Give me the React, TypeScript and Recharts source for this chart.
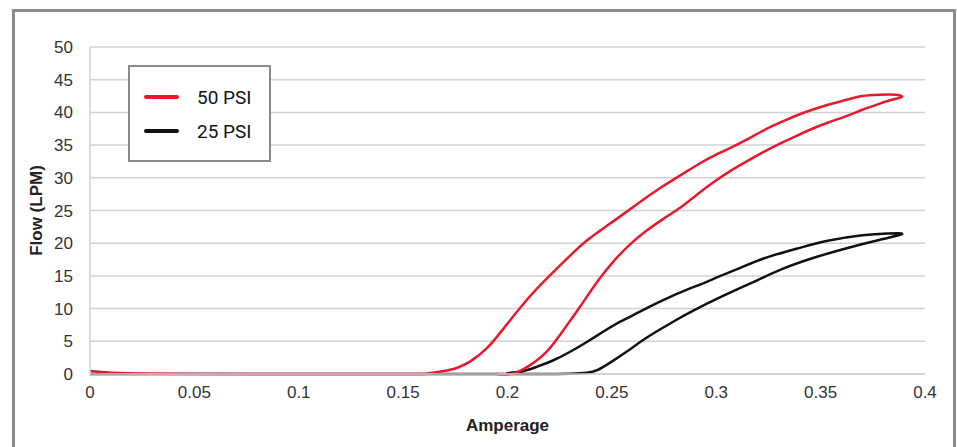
import React from 'react';
import { LineChart, Line, XAxis, YAxis, CartesianGrid, Label } from 'recharts';

const psi50Amps = [0, 0.01, 0.03, 0.08, 0.15, 0.162, 0.172, 0.182, 0.19, 0.198, 0.206, 0.214, 0.222, 0.23, 0.238, 0.246, 0.254, 0.263, 0.273, 0.283, 0.291, 0.299, 0.307, 0.315, 0.323, 0.331, 0.339, 0.346, 0.354, 0.362, 0.37, 0.378, 0.386, 0.389, 0.385, 0.378, 0.37, 0.362, 0.354, 0.346, 0.339, 0.331, 0.323, 0.315, 0.307, 0.299, 0.291, 0.283, 0.275, 0.267, 0.259, 0.251, 0.243, 0.235, 0.227, 0.219, 0.211, 0.203, 0.195];
const psi50Flow = [0.45, 0.2, 0.05, 0, 0, 0.1, 0.6, 1.9, 3.9, 6.9, 10.1, 13.0, 15.6, 18.1, 20.4, 22.3, 24.1, 26.2, 28.4, 30.4, 32.0, 33.4, 34.6, 35.9, 37.3, 38.5, 39.6, 40.4, 41.2, 41.9, 42.5, 42.7, 42.7, 42.4, 42.0, 41.3, 40.4, 39.4, 38.5, 37.5, 36.5, 35.3, 34.0, 32.6, 31.1, 29.4, 27.5, 25.5, 23.8, 22.0, 19.9, 17.3, 14.1, 10.4, 6.8, 3.5, 1.4, 0.1, 0];

const psi25Amps = [0, 0.1, 0.19, 0.2, 0.206, 0.214, 0.222, 0.23, 0.238, 0.246, 0.254, 0.262, 0.27, 0.278, 0.286, 0.294, 0.302, 0.312, 0.323, 0.339, 0.354, 0.37, 0.382, 0.389, 0.378, 0.362, 0.346, 0.332, 0.318, 0.303, 0.289, 0.281, 0.273, 0.265, 0.257, 0.249, 0.243, 0.238, 0.23, 0.215, 0.2];
const psi25Flow = [0, 0, 0, 0.1, 0.35, 1.1, 2.1, 3.4, 4.9, 6.5, 8.0, 9.3, 10.6, 11.8, 12.9, 13.9, 15.0, 16.3, 17.7, 19.2, 20.4, 21.2, 21.5, 21.4, 20.5, 19.2, 17.7, 16.1, 14.1, 11.9, 9.7, 8.3, 6.8, 5.2, 3.4, 1.7, 0.6, 0.2, 0.05, 0, 0];

const xTicks = [0, 0.05, 0.1, 0.15, 0.2, 0.25, 0.3, 0.35, 0.4];
const yTicks = [0, 5, 10, 15, 20, 25, 30, 35, 40, 45, 50];

const seriesNames = ['50 PSI', '25 PSI'];
const seriesColors = ['#e8192c', '#111111'];

const zip = (xs: number[], ys: number[]) => xs.map((x, i) => ({ x, y: ys[i] }));
const data50 = zip(psi50Amps, psi50Flow);
const data25 = zip(psi25Amps, psi25Flow);

const tickFont = 'Liberation Sans, Arial, sans-serif';

const LegendBox = () => (
  <div
    style={{
      position: 'absolute',
      left: 128,
      top: 65,
      width: 139,
      height: 93,
      border: '2px solid #8a8a8a',
      background: '#fff',
      fontFamily: 'Roboto, sans-serif',
      fontSize: 19,
      color: '#111',
    }}
  >
    {seriesNames.map((n, i) => (
      <div key={n} style={{ position: 'absolute', left: 14, top: 18 + i * 34, display: 'flex', alignItems: 'center', height: 24 }}>
        <div style={{ width: 35, height: 4, borderRadius: 2, background: seriesColors[i] }} />
        <span style={{ marginLeft: 18 }}>{n}</span>
      </div>
    ))}
  </div>
);

export default function App() {
  return (
    <div style={{ position: 'fixed', left: 0, top: 0, width: 957, height: 447, background: '#fff' }}>
      <div
        style={{
          position: 'absolute',
          left: 12,
          top: 9,
          width: 938,
          height: 460,
          border: '3px solid #8b8b8b',
          borderBottom: 'none',
        }}
      />
      <div style={{ position: 'absolute', left: 0, top: 0 }}>
        <LineChart width={957} height={447} margin={{ top: 47, right: 32, bottom: 0, left: 0 }}>
          <CartesianGrid vertical={false} stroke="#d2d2d2" strokeWidth={1.5} />
          <XAxis
            dataKey="x"
            type="number"
            domain={[0, 0.4]}
            ticks={xTicks}
            allowDuplicatedCategory={false}
            height={73}
            tickLine={false}
            tickSize={6}
            tickMargin={6}
            axisLine={{ stroke: '#d2d2d2', strokeWidth: 1.5 }}
            tick={{ fill: '#333', fontSize: 17, fontFamily: tickFont }}
          >
            <Label
              value="Amperage"
              position="insideBottom"
              offset={16}
              style={{ fill: '#222', fontSize: 17, fontWeight: 'bold', fontFamily: tickFont }}
            />
          </XAxis>
          <YAxis
            dataKey="y"
            type="number"
            domain={[0, 50]}
            ticks={yTicks}
            width={90}
            tickLine={false}
            tickSize={8}
            tickMargin={9}
            axisLine={{ stroke: '#d2d2d2', strokeWidth: 1.5 }}
            tick={{ fill: '#333', fontSize: 17, fontFamily: tickFont }}
          >
            <Label
              value="Flow (LPM)"
              angle={-90}
              position="center"
              dx={-9}
              style={{ fill: '#222', fontSize: 17, fontWeight: 'bold', fontFamily: tickFont, textAnchor: 'middle' }}
            />
          </YAxis>
          <Line
            data={data25}
            dataKey="y"
            name={seriesNames[1]}
            type="natural"
            stroke={seriesColors[1]}
            strokeWidth={2.5}
            dot={false}
            isAnimationActive={false}
          />
          <Line
            data={data50}
            dataKey="y"
            name={seriesNames[0]}
            type="natural"
            stroke={seriesColors[0]}
            strokeWidth={2.5}
            dot={false}
            isAnimationActive={false}
          />
        </LineChart>
      </div>
      <LegendBox />
    </div>
  );
}
